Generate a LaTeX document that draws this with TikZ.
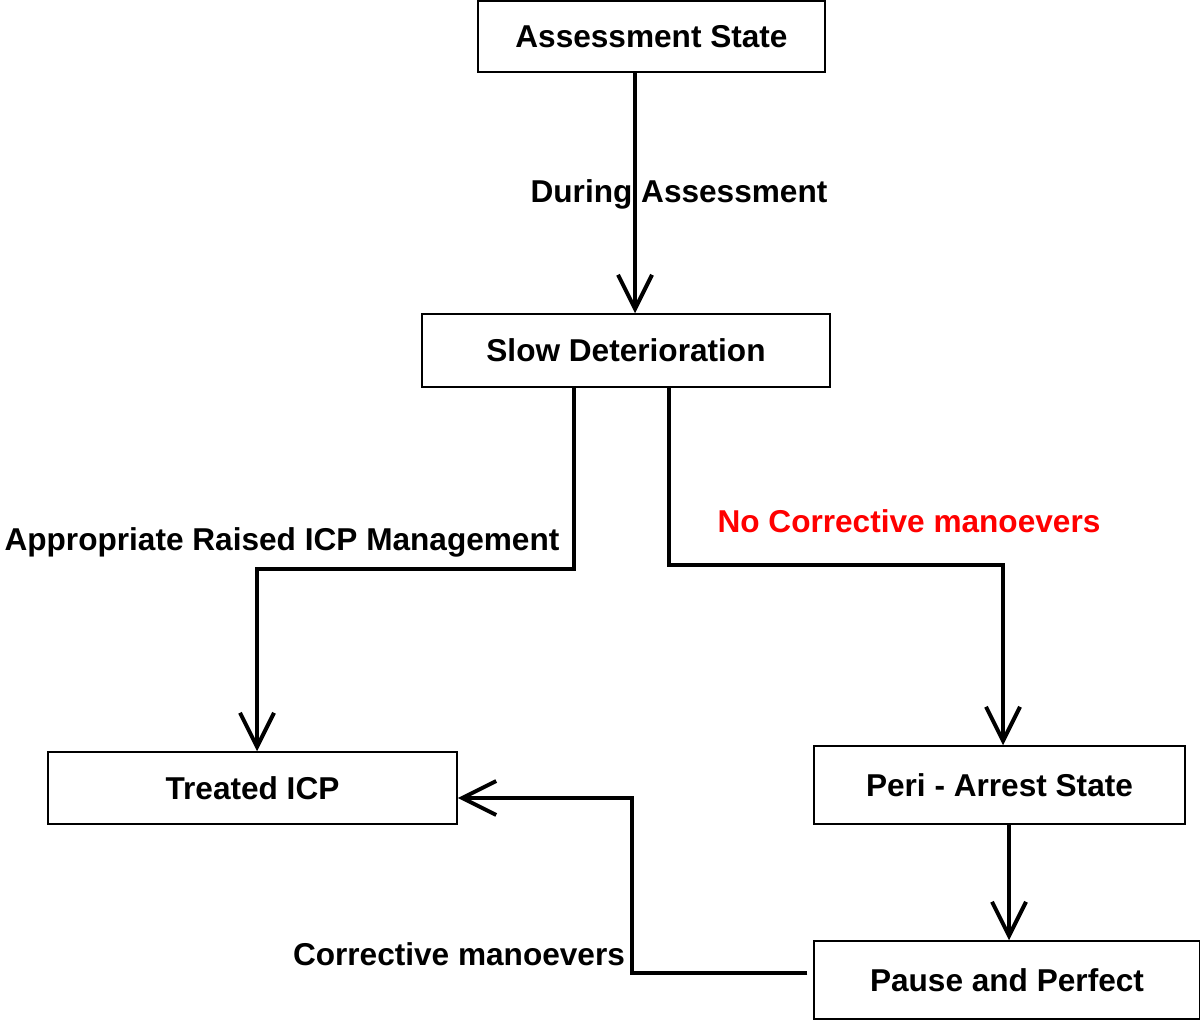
\documentclass[tikz,border=0pt]{standalone}
\usepackage{fontspec}
\setmainfont{Liberation Sans}
\usetikzlibrary{arrows.meta}
\definecolor{lblred}{RGB}{255,0,0}
\tikzset{
  statebox/.style={draw=black, line width=0.75pt, rectangle, inner sep=0pt,
    font=\fontsize{15.8}{19}\selectfont\bfseries, text=black},
  lbl/.style={inner sep=0pt, font=\fontsize{15.8}{19}\selectfont\bfseries, text=black},
  arr/.style={draw=black, line width=2pt, -{Straight Barb[length=17pt,width=17pt,line width=2pt]}}
}
\begin{document}
\begin{tikzpicture}[x=0.5pt,y=-0.5pt]
\useasboundingbox (0,0) rectangle (1200,1021);
% boxes
\node[statebox, minimum width=173.5pt, minimum height=35.5pt] (A) at (651.5,36.5) {\raisebox{-1pt}{Assessment State}};
\node[statebox, minimum width=204pt, minimum height=36.5pt] (B) at (626,350.5) {\raisebox{-1pt}{Slow Deterioration}};
\node[statebox, minimum width=204.5pt, minimum height=36pt] (C) at (252.5,788) {\raisebox{-1pt}{Treated ICP}};
\node[statebox, minimum width=185.5pt, minimum height=39pt] (D) at (999.5,785) {Peri - Arrest State};
\node[statebox, minimum width=193pt, minimum height=39pt] (E) at (1007,980) {Pause and Perfect};
% bend points
\coordinate (a1) at (635,0);
\coordinate (b1) at (574,569);
\coordinate (b2) at (257,569);
\coordinate (d1) at (669,565);
\coordinate (d2) at (1003,565);
\coordinate (e1) at (1009,0);
\coordinate (f1) at (632,973);
\coordinate (f2) at (632,798);
% connectors
\draw[arr] (A.south -| a1) -- (B.north -| a1);
\draw[arr] (B.south -| b1) -- (b1) -- (b2) -- (C.north -| b2);
\draw[arr] (B.south -| d1) -- (d1) -- (d2) -- (D.north -| d2);
\draw[arr] (D.south -| e1) -- (E.north -| e1);
\draw[arr] ([xshift=-3pt]E.west |- f1) -- (f1) -- (f2) -- (C.east |- f2);
% labels
\node[lbl] (L1) at (679,194) {During Assessment};
\node[lbl] (L2) at (282,542) {Appropriate Raised ICP Management};
\node[lbl, text=lblred] (L3) at (909,521) {No Corrective manoevers};
\node[lbl] (L4) at (459,954) {Corrective manoevers};
\end{tikzpicture}
\end{document}
